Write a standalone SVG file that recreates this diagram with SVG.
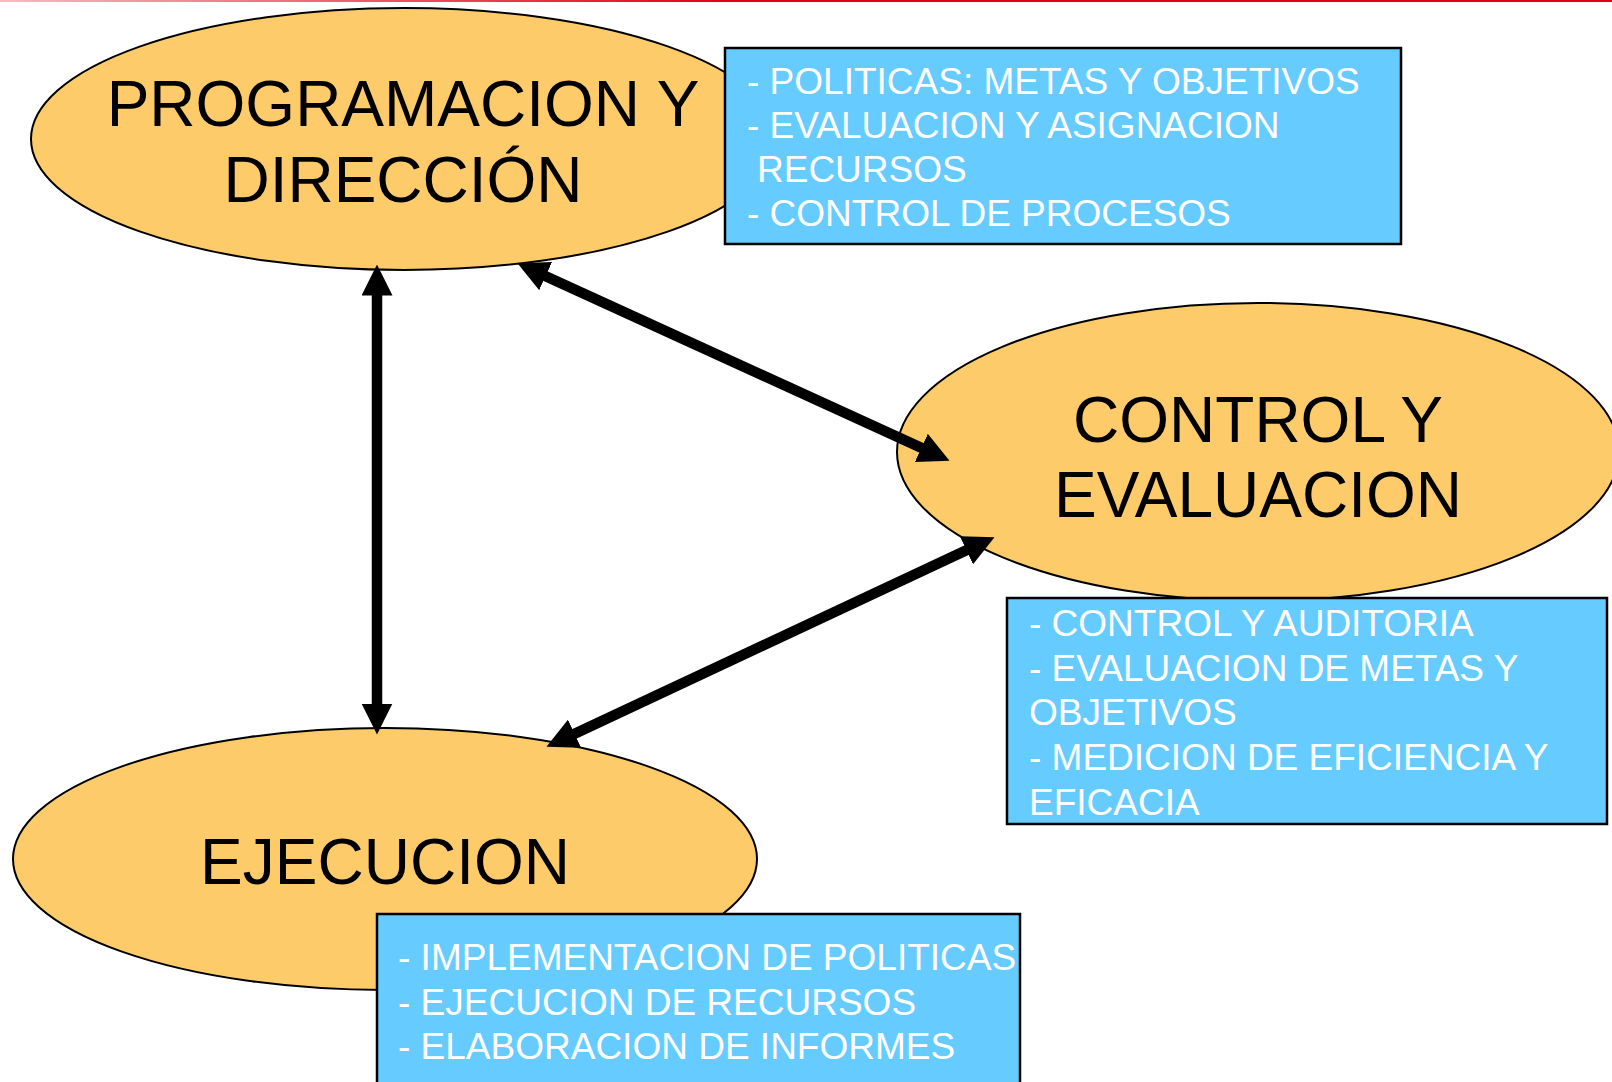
<svg xmlns="http://www.w3.org/2000/svg" width="1612" height="1082" viewBox="0 0 1612 1082">
<defs>
<linearGradient id="topline" x1="0" y1="0" x2="1" y2="0">
<stop offset="0" stop-color="#f7b8c0"/>
<stop offset="0.45" stop-color="#e0001a"/>
<stop offset="1" stop-color="#e0001a"/>
</linearGradient>
<marker id="ah" viewBox="0 0 31 31" refX="0.5" refY="15.5" markerWidth="31" markerHeight="31" markerUnits="userSpaceOnUse" orient="auto-start-reverse">
<path d="M0,0 L31,15.5 L0,31 z" fill="#000"/>
</marker>
</defs>
<style>
.node{fill:#FDCB69;stroke:#000;stroke-width:2}
.big{font-family:"Liberation Sans",Arial,Helvetica,sans-serif;font-size:64px;fill:#000;text-anchor:middle}
.box{fill:#66CCFF;stroke:#000;stroke-width:2.5}
.note{font-family:"Liberation Sans",Arial,Helvetica,sans-serif;font-size:37px;fill:#fff}
.conn{stroke:#000;stroke-width:10.5;fill:none;marker-start:url(#ah);marker-end:url(#ah)}
</style>
<rect x="0" y="0" width="1612" height="2" fill="url(#topline)"/>
<g id="programacion">
<ellipse class="node" cx="404" cy="139" rx="373" ry="131"/>
<text class="big" x="403" y="126">PROGRAMACION Y</text>
<text class="big" x="403" y="202">DIRECCIÓN</text>
</g>
<g id="control">
<ellipse class="node" cx="1258" cy="452" rx="361" ry="149"/>
<text class="big" x="1258" y="442">CONTROL Y</text>
<text class="big" x="1258" y="517">EVALUACION</text>
</g>
<g id="ejecucion">
<ellipse class="node" cx="385" cy="859" rx="372" ry="131"/>
<text class="big" x="385" y="884">EJECUCION</text>
</g>
<g id="connectors">
<line class="conn" x1="377" y1="295" x2="377" y2="704"/>
<line class="conn" x1="545.2" y1="275.9" x2="921.8" y2="448.1"/>
<line class="conn" x1="966.9" y1="550.1" x2="574.1" y2="733.9"/>
</g>
<g id="nota-programacion">
<rect class="box" x="725" y="48" width="676" height="196"/>
<text class="note" x="747" y="94">- POLITICAS: METAS Y OBJETIVOS</text>
<text class="note" x="747" y="138">- EVALUACION Y ASIGNACION</text>
<text class="note" x="757" y="182">RECURSOS</text>
<text class="note" x="747" y="226">- CONTROL DE PROCESOS</text>
</g>
<g id="nota-control">
<rect class="box" x="1007" y="598" width="600" height="226"/>
<text class="note" x="1029" y="636">- CONTROL Y AUDITORIA</text>
<text class="note" x="1029" y="680.5">- EVALUACION DE METAS Y</text>
<text class="note" x="1029" y="725">OBJETIVOS</text>
<text class="note" x="1029" y="770">- MEDICION DE EFICIENCIA Y</text>
<text class="note" x="1029" y="815">EFICACIA</text>
</g>
<g id="nota-ejecucion">
<rect class="box" x="377" y="914" width="643" height="180"/>
<text class="note" x="398" y="970">- IMPLEMENTACION DE POLITICAS</text>
<text class="note" x="398" y="1015">- EJECUCION DE RECURSOS</text>
<text class="note" x="398" y="1059">- ELABORACION DE INFORMES</text>
</g>
</svg>
